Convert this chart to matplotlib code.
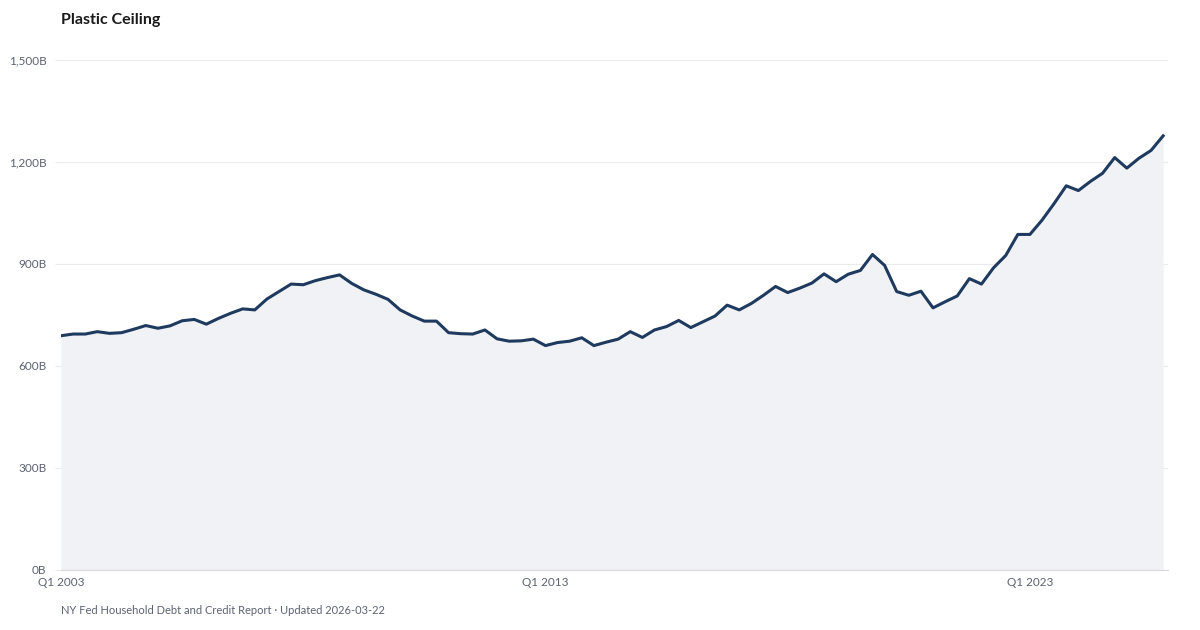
import numpy as np
import matplotlib.pyplot as plt
from matplotlib.ticker import FuncFormatter

# Credit card balances, billions of dollars, quarterly from Q1 2003
quarters = [f"Q{q} {y}" for y in range(2003, 2026) for q in range(1, 5)]
balances = [
    689, 694, 694, 701, 696, 698, 708, 719, 711, 718, 733, 737,
    723, 740, 755, 768, 765, 797, 819, 841, 839, 851, 860, 868,
    843, 824, 811, 796, 765, 747, 732, 732, 698, 695, 694, 706,
    680, 673, 674, 679, 660, 669, 673, 683, 660, 670, 679, 701,
    684, 706, 716, 734, 713, 730, 747, 779, 765, 784, 808, 834,
    816, 829, 844, 871, 848, 870, 881, 928, 896, 819, 808, 820,
    771, 789, 806, 857, 841, 889, 925, 987, 987, 1029, 1078, 1130,
    1116, 1143, 1167, 1213, 1182, 1211, 1234, 1277,
]
tick_labels = ["Q1 2003", "Q1 2013", "Q1 2023"]
y_ticks = [0, 300, 600, 900, 1200, 1500]

title = "Plastic Ceiling"
source = "NY Fed Household Debt and Credit Report \u00b7 Updated 2026-03-22"

plt.rcParams['font.family'] = ['Lato', 'DejaVu Sans']

line_color = '#1f3a5f'
fill_color = '#f1f2f5'
grid_color = '#ebebeb'
text_color = '#5b6271'

fig = plt.figure(figsize=(12, 6.3), dpi=100)
ax = fig.add_axes([61 / 1200, 60 / 630, (1168 - 61) / 1200, 510 / 630])

x = np.arange(len(balances))
ax.fill_between(x, balances, 0, color=fill_color, lw=0)
ax.plot(x, balances, color=line_color, lw=2.2, solid_joinstyle='round')

ax.set_xlim(0, len(balances) - 1 + 0.4)
ax.set_ylim(0, 1500)
ax.set_yticks(y_ticks)
ax.yaxis.set_major_formatter(FuncFormatter(lambda v, p: f"{int(v):,}B"))
ax.set_xticks([quarters.index(t) for t in tick_labels])
ax.set_xticklabels(tick_labels)

ax.grid(axis='y', color=grid_color, lw=0.8)
ax.set_axisbelow(True)
for s in ['top', 'right', 'left']:
    ax.spines[s].set_visible(False)
ax.spines['bottom'].set_color('#d8d8d8')
ax.spines['bottom'].set_linewidth(0.8)
ax.tick_params(axis='both', labelsize=8.5, labelcolor=text_color)
# short grid-coloured stubs so the gridlines poke out left of the plot
ax.tick_params(axis='y', length=4.5, width=0.8, color=grid_color, pad=6)
ax.tick_params(axis='x', length=0, pad=5)

fig.text(61 / 1200, 1 - 20 / 630, title, fontsize=11.5, fontweight='bold',
         color='#1a1a1a', va='center', ha='left')
fig.text(61 / 1200, 1 - 610 / 630, source, fontsize=8, color=text_color,
         va='center', ha='left')

fig.savefig('out.png', dpi=100, facecolor='white')
